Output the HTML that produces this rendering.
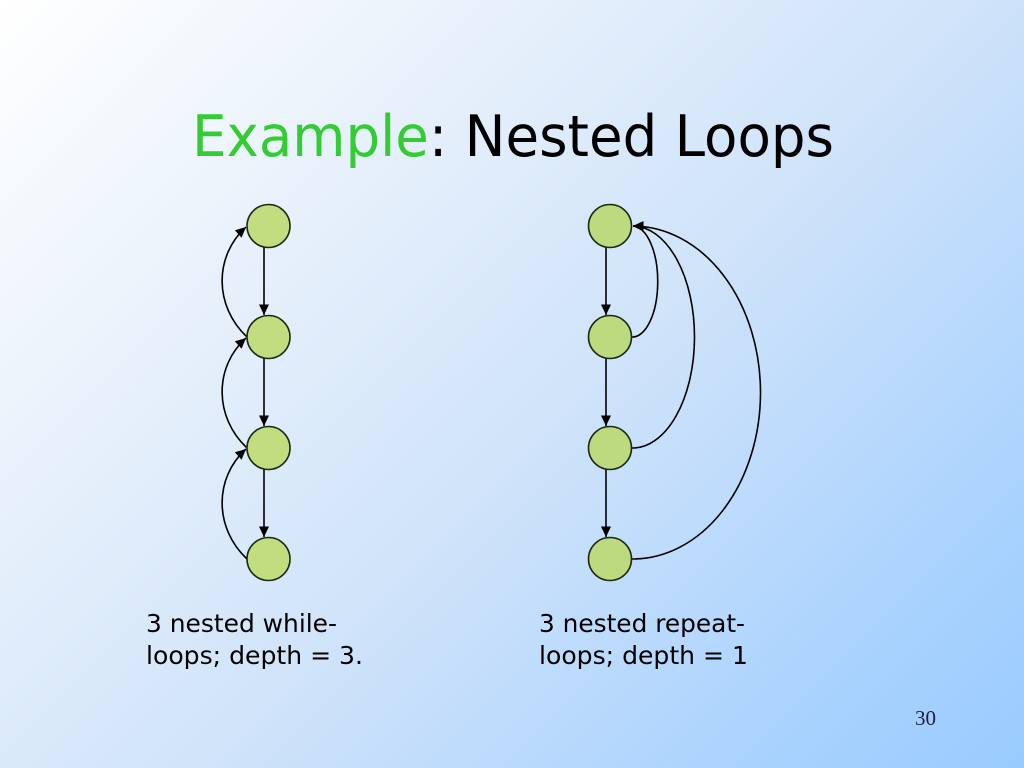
<!DOCTYPE html>
<html>
<head>
<meta charset="utf-8">
<style>
  html,body{margin:0;padding:0;}
  body{width:1024px;height:768px;overflow:hidden;
    background:linear-gradient(135deg,#ffffff 0%,#e6f0fb 30%,#cfe3fa 55%,#a9d2fe 85%,#99cbff 100%);}
  svg{position:absolute;left:0;top:0;}
</style>
</head>
<body>
<svg width="1024" height="768" viewBox="0 0 1024 768" xmlns="http://www.w3.org/2000/svg">
  <defs>
    <marker id="ah" markerUnits="userSpaceOnUse" markerWidth="13" markerHeight="11" refX="10.5" refY="5" orient="auto">
      <path d="M0,0 L10.5,5 L0,10 Z" fill="#000"/>
    </marker>
  </defs>

  <!-- Title -->
  <text x="192" y="156" font-family="'DejaVu Sans', Tahoma, sans-serif" font-size="57" textLength="642" lengthAdjust="spacingAndGlyphs"><tspan fill="#33cc33">Example</tspan><tspan fill="#000">: Nested Loops</tspan></text>

  <!-- Left graph edges -->
  <g stroke="#000" stroke-width="1.6" fill="none">
    <line x1="264" y1="247" x2="264" y2="315" marker-end="url(#ah)"/>
    <line x1="264" y1="358" x2="264" y2="426" marker-end="url(#ah)"/>
    <line x1="264" y1="469" x2="264" y2="537" marker-end="url(#ah)"/>
    <path d="M247,337 C214,306 214,256 246,227" marker-end="url(#ah)"/>
    <path d="M247,448 C214,417 214,367 246,338" marker-end="url(#ah)"/>
    <path d="M247,559 C214,528 214,478 246,449" marker-end="url(#ah)"/>
  </g>
  <!-- Left nodes -->
  <g fill="#c2dc80" stroke="#1e2a16" stroke-width="1.6">
    <circle cx="268.5" cy="226" r="21.5"/>
    <circle cx="268.5" cy="337" r="21.5"/>
    <circle cx="268.5" cy="448" r="21.5"/>
    <circle cx="268.5" cy="559" r="21.5"/>
  </g>

  <!-- Right graph edges -->
  <g stroke="#000" stroke-width="1.6" fill="none">
    <line x1="606" y1="247" x2="606" y2="315" marker-end="url(#ah)"/>
    <line x1="606" y1="358" x2="606" y2="426" marker-end="url(#ah)"/>
    <line x1="606" y1="469" x2="606" y2="537" marker-end="url(#ah)"/>
    <path d="M632,337 A25,55 0 0 0 633,226" marker-end="url(#ah)"/>
    <path d="M632,448 A62,111 0 0 0 633,226" marker-end="url(#ah)"/>
    <path d="M632,559 A128,166.5 0 0 0 633,226" marker-end="url(#ah)"/>
  </g>
  <!-- Right nodes -->
  <g fill="#bcda7e" stroke="#1e2a16" stroke-width="1.6">
    <circle cx="610" cy="226" r="21.5"/>
    <circle cx="610" cy="337" r="21.5"/>
    <circle cx="610" cy="448" r="21.5"/>
    <circle cx="610" cy="559" r="21.5"/>
  </g>

  <!-- Captions -->
  <g font-family="'DejaVu Sans', Tahoma, sans-serif" font-size="25" fill="#000">
    <text x="146" y="632" textLength="191" lengthAdjust="spacingAndGlyphs">3 nested while-</text>
    <text x="146" y="664" textLength="217" lengthAdjust="spacingAndGlyphs">loops; depth = 3.</text>
    <text x="539" y="632" textLength="206" lengthAdjust="spacingAndGlyphs">3 nested repeat-</text>
    <text x="539" y="664" textLength="209" lengthAdjust="spacingAndGlyphs">loops; depth = 1</text>
  </g>

  <!-- Page number -->
  <text x="915" y="725" font-family="'Liberation Serif', serif" font-size="21" fill="#1a1f3f">30</text>
</svg>
</body>
</html>
